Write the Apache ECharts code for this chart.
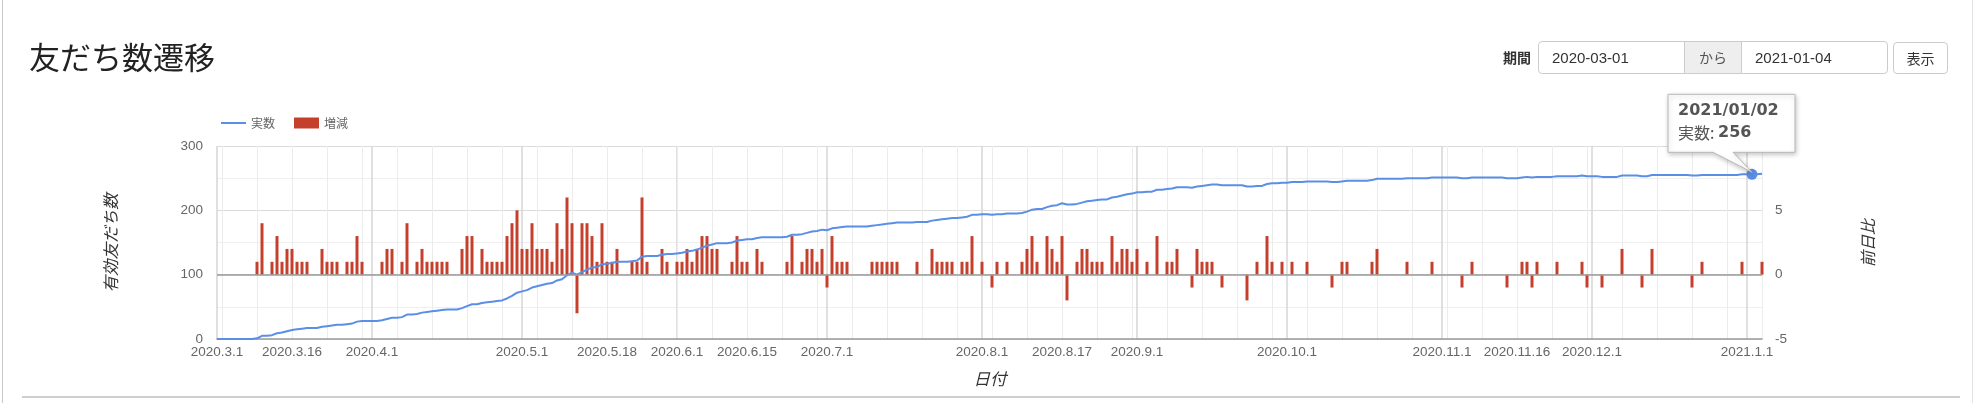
<!DOCTYPE html>
<html><head><meta charset="utf-8">
<script src="https://cdn.jsdelivr.net/npm/echarts@6/dist/echarts.min.js"></script>
<style>
html,body{margin:0;padding:0;background:#fff;width:1980px;height:403px;overflow:hidden;font-family:'Liberation Sans','Noto Sans CJK JP',sans-serif;}
#chart{position:absolute;left:0;top:0;width:1980px;height:403px;}
.abs{position:absolute;box-sizing:border-box;}
.title{left:29px;top:34px;font-size:31px;color:#222;font-family:'Noto Sans CJK JP',sans-serif;font-weight:400;line-height:44px;white-space:nowrap;}
.lbl{left:1503px;top:47px;font-size:14px;font-weight:bold;color:#333;font-family:'Noto Sans CJK JP',sans-serif;line-height:20px;}
.inp{top:41px;height:33px;border:1px solid #ccc;font-size:15px;color:#333;line-height:31px;padding-left:13px;background:#fff;}
.addon{top:41px;height:33px;border:1px solid #ccc;background:#eee;font-size:14px;color:#555;line-height:31px;text-align:center;font-family:'Noto Sans CJK JP',sans-serif;}
.btn{left:1893px;top:42px;width:55px;height:32px;border:1px solid #ccc;border-radius:4px;font-size:14px;color:#333;line-height:30px;text-align:center;background:#fff;font-family:'Noto Sans CJK JP',sans-serif;}
</style></head>
<body>
<div id="chart"></div>
<div class="abs" style="left:2px;top:0;width:1px;height:403px;background:#c8c8c8;"></div>
<div class="abs" style="left:1972px;top:0;width:1px;height:403px;background:#e2e2e2;"></div>
<div class="abs" style="left:22px;top:396px;width:1938px;height:2px;background:#cfcfcf;"></div>
<div class="abs title">友だち数遷移</div>
<div class="abs lbl">期間</div>
<div class="abs inp" style="left:1538px;width:147px;border-radius:4px 0 0 4px;">2020-03-01</div>
<div class="abs addon" style="left:1684px;width:58px;">から</div>
<div class="abs inp" style="left:1741px;width:147px;border-radius:0 4px 4px 0;">2021-01-04</div>
<div class="abs btn">表示</div>
<script>
// ---- data ----
const startDate = '2020-03-01';
const dayCount = 310; // 2020-03-01 .. 2021-01-04

// daily change (増減), one value per day
const diffValues = [
  0,0,0,0,0,0,0,0,1,4,
  0,1,3,1,2,2,1,1,1,0,
  0,2,1,1,1,0,1,1,3,1,
  0,0,0,1,2,2,0,1,4,0,
  1,2,1,1,1,1,1,0,0,2,
  3,3,0,2,1,1,1,1,3,4,
  5,2,2,4,2,2,2,1,4,2,
  6,4,-3,4,4,3,1,4,1,1,
  2,0,0,1,1,6,1,0,0,2,
  1,0,1,1,2,1,2,3,3,2,
  2,0,0,1,3,1,1,0,2,1,
  0,0,0,0,1,3,0,1,2,2,
  1,2,-1,3,1,1,1,0,0,0,
  0,1,1,1,1,1,1,0,0,0,
  1,0,0,2,1,1,1,1,0,1,
  1,3,0,1,0,-1,1,0,1,0,
  0,1,2,3,1,0,3,2,1,3,
  -2,0,1,2,2,1,1,1,0,3,
  1,2,2,1,2,0,1,0,3,0,
  1,1,2,0,0,-1,2,1,1,1,
  0,-1,0,0,0,0,-2,0,1,0,
  3,1,0,1,0,1,0,0,1,0,
  0,0,0,-1,0,1,1,0,0,0,
  0,1,2,0,0,0,0,0,1,0,
  0,0,0,1,0,0,0,0,0,-1,
  0,1,0,0,0,0,0,0,-1,0,
  0,1,1,-1,1,0,0,0,1,0,
  0,0,0,1,-1,0,0,-1,0,0,
  0,2,0,0,0,-1,0,2,0,0,
  0,0,0,0,0,-1,0,1,0,0,
  0,0,0,0,0,1,0,0,0,1
];

// friend count (実数), one value per day
const totalValues = [
  0,0,0,0,0,0,0,0,1,5,
  5,6,9,10,12,14,15,16,17,17,
  17,19,20,21,22,22,23,24,27,28,
  28,28,28,29,31,33,33,34,38,38,
  39,41,42,43,44,45,46,46,46,48,
  51,54,54,56,57,58,59,60,63,67,
  72,74,76,80,82,84,86,87,91,93,
  99,103,100,104,108,111,112,116,117,118,
  120,120,120,121,122,128,129,129,129,131,
  132,132,133,134,136,137,139,142,145,147,
  149,149,149,150,153,154,155,155,157,158,
  158,158,158,158,159,162,162,163,165,167,
  168,170,169,172,173,174,175,175,175,175,
  175,176,177,178,179,180,181,181,181,181,
  182,182,182,184,185,186,187,188,188,189,
  190,193,193,194,194,193,194,194,195,195,
  195,196,198,201,202,202,205,207,208,211,
  209,209,210,212,214,215,216,217,217,220,
  221,223,225,226,228,228,229,229,232,232,
  233,234,236,236,236,235,237,238,239,240,
  240,239,239,239,239,239,237,237,238,238,
  241,242,242,243,243,244,244,244,245,245,
  245,245,245,244,244,245,246,246,246,246,
  246,247,249,249,249,249,249,249,250,250,
  250,250,250,251,251,251,251,251,251,250,
  250,251,251,251,251,251,251,251,250,250,
  250,251,252,251,252,252,252,252,253,253,
  253,253,253,254,253,253,253,252,252,252,
  252,254,254,254,254,253,253,255,255,255,
  255,255,255,255,255,254,254,255,255,255,
  255,255,255,255,255,256,256,256,256,257
];

// x-axis tick labels shown
const xTickDates = ['2020-03-01','2020-03-16','2020-04-01','2020-05-01','2020-05-18','2020-06-01',
  '2020-06-15','2020-07-01','2020-08-01','2020-08-17','2020-09-01','2020-10-01','2020-11-01',
  '2020-11-16','2020-12-01','2021-01-01'];
const leftTicks = [0, 100, 200, 300];
const rightTicks = [-5, 0, 5];
const tooltipDate = '2021-01-02';

// ---- build categories ----
const dates = [];
const weekday = [];
{
  const d0 = new Date(startDate + 'T00:00:00Z');
  for (let i = 0; i < dayCount; i++) {
    const d = new Date(d0.getTime() + i * 86400000);
    const s = d.toISOString().slice(0, 10);
    dates.push(s);
    weekday.push(d.getUTCDay());
  }
}
const tickSet = new Set(xTickDates);
const fmtDot = s => { const p = s.split('-'); return p[0] + '.' + (+p[1]) + '.' + (+p[2]); };

const BLUE = '#5b8ee6', RED = '#c4402c';
const FONT = "'Liberation Sans','Noto Sans CJK JP',sans-serif";

const chart = echarts.init(document.getElementById('chart'));
chart.setOption({
  animation: false,
  textStyle: { fontFamily: FONT },
  legend: {
    left: 216, top: 112, itemWidth: 25, itemHeight: 11, itemGap: 19, symbolKeepAspect: true,
    textStyle: { fontSize: 12, color: '#666', fontFamily: "'Noto Sans CJK JP',sans-serif" },
    data: [{ name: '実数', icon: 'path://M0,0H50V4H0Z' }, { name: '増減', icon: 'rect' }]
  },
  grid: { left: 217, right: 218, top: 146, bottom: 64, containLabel: false },
  xAxis: [{
    type: 'category', data: dates, boundaryGap: false,
    axisLine: { onZero: false, lineStyle: { color: '#9a9a9a', width: 1.5 } },
    axisTick: { show: false },
    axisLabel: {
      interval: (i, v) => tickSet.has(v), formatter: v => fmtDot(v),
      color: '#666', fontSize: 13.5, margin: 7
    },
    splitLine: { show: true, interval: (i, v) => v.slice(8) === '01', lineStyle: { color: '#d6d6d6', width: 1.5 } }
  }, {
    type: 'category', data: dates, boundaryGap: false, position: 'bottom',
    axisLine: { show: false }, axisTick: { show: false }, axisLabel: { show: false },
    splitLine: { show: true, interval: (i) => weekday[i] === 1, lineStyle: { color: '#ececec', width: 1 } }
  }],
  yAxis: [{
    type: 'value', min: leftTicks[0], max: leftTicks[leftTicks.length - 1], interval: 100,
    axisLine: { show: false }, axisTick: { show: false },
    axisLabel: { color: '#666', fontSize: 13.5, margin: 14 },
    splitLine: { lineStyle: { color: '#dcdcdc' } },
    minorTick: { show: false, splitNumber: 2 },
    minorSplitLine: { show: true, lineStyle: { color: '#efefef' } }
  }, {
    type: 'value', position: 'right', min: rightTicks[0], max: 10, interval: 5,
    axisLine: { show: false }, axisTick: { show: false },
    axisLabel: { color: '#666', fontSize: 13.5, margin: 13, formatter: v => rightTicks.includes(v) ? String(v) : '' },
    splitLine: { show: false }
  }],
  series: [{
    name: '増減', type: 'bar', xAxisIndex: 0, yAxisIndex: 1, data: diffValues,
    barWidth: 3, itemStyle: { color: RED }, z: 2,
    markLine: {
      silent: true, symbol: 'none', label: { show: false },
      lineStyle: { color: '#9a9a9a', width: 1.5, type: 'solid' },
      data: [{ yAxis: 0 }]
    }
  }, {
    name: '実数', type: 'line', xAxisIndex: 0, yAxisIndex: 0, data: totalValues,
    symbol: 'none', lineStyle: { color: BLUE, width: 2 }, itemStyle: { color: BLUE }, z: 4,
    markPoint: {
      silent: true, symbol: 'circle', symbolSize: 11, label: { show: false },
      itemStyle: { color: BLUE },
      data: [{ coord: [tooltipDate, totalValues[dates.indexOf(tooltipDate)]] }]
    }
  }]
});

// tooltip-like callout and axis titles
const ti = dates.indexOf(tooltipDate);
const p = chart.convertToPixel({ xAxisIndex: 0, yAxisIndex: 0 }, [tooltipDate, totalValues[ti]]);
const px = p[0], py = p[1];
const L = px - 84, R = px + 43, T = py - 80, B = py - 22;
chart.setOption({
  graphic: [
    { type: 'polygon', z: 100,
      shape: { points: [[L, T], [R, T], [R, B], [px - 19, B], [px, py - 2], [px - 39, B], [L, B]] },
      style: { fill: '#fff', stroke: '#b8b8b8', lineWidth: 1, shadowBlur: 5, shadowColor: 'rgba(0,0,0,0.22)', shadowOffsetX: 1, shadowOffsetY: 2 } },
    { type: 'text', z: 101, x: L + 10, y: py - 63,
      style: { text: tooltipDate.replace(/-/g, '/'), fill: '#555', font: "bold 16px 'DejaVu Sans'", verticalAlign: 'middle' } },
    { type: 'text', z: 101, x: L + 10, y: py - 41,
      style: { text: '{a|実数: }{b|' + totalValues[ti] + '}', verticalAlign: 'middle',
        rich: { a: { fill: '#555', fontSize: 16, fontFamily: "'Noto Sans CJK JP',sans-serif" },
                b: { fill: '#555', fontSize: 16, fontWeight: 'bold', fontFamily: "'DejaVu Sans'" } } } },
    { type: 'text', x: 111, y: 243, rotation: Math.PI / 2,
      style: { text: '有効友だち数', align: 'center', verticalAlign: 'middle', fill: '#333', font: "italic 16.5px 'Noto Sans CJK JP'" } },
    { type: 'text', x: 1868, y: 243, rotation: Math.PI / 2,
      style: { text: '前日比', align: 'center', verticalAlign: 'middle', fill: '#333', font: "italic 16px 'Noto Sans CJK JP'" } },
    { type: 'text', x: 990, y: 379,
      style: { text: '日付', align: 'center', verticalAlign: 'middle', fill: '#333', font: "italic 16.5px 'Noto Sans CJK JP'" } }
  ]
});
</script>
</body></html>
